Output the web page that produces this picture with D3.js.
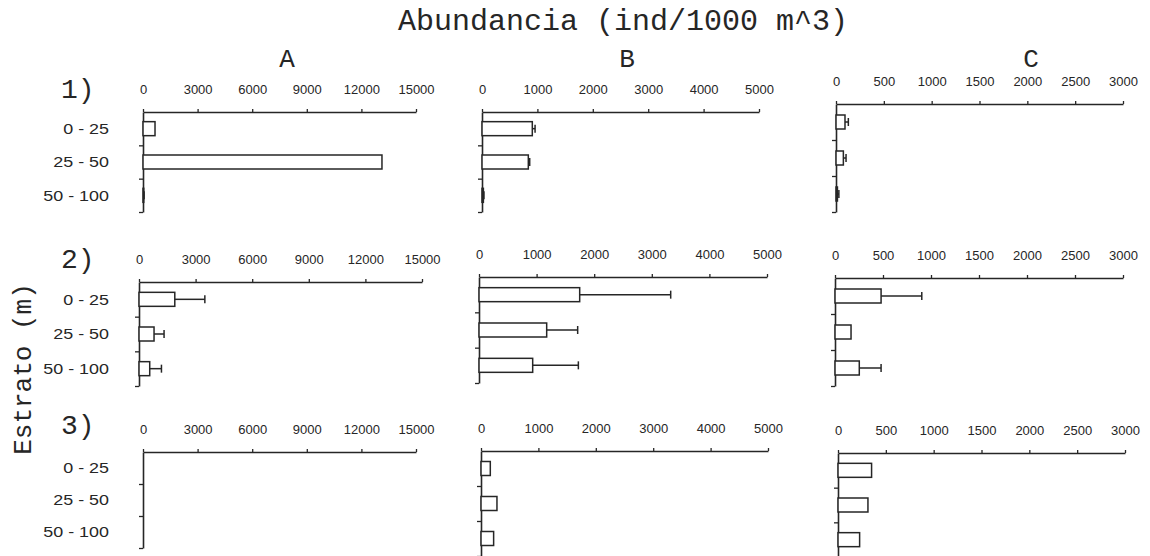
<!DOCTYPE html>
<html>
<head>
<meta charset="utf-8">
<script src="https://cdn.jsdelivr.net/npm/d3@7"></script>
<style>
  body { margin: 0; background: #fff; }
  svg { display: block; }
</style>
</head>
<body>
<svg id="chart" width="1150" height="556"></svg>
<script>
// Depth strata (m) and panel labels
const strata = ["0 - 25", "25 - 50", "50 - 100"];
const columnNames = ["A", "B", "C"];
const rowNames = ["1)", "2)", "3)"];

// Axis range and tick spacing for each column
const axisMax = [15000, 5000, 3000];
const tickStep = [3000, 1000, 500];

// Mean abundance (ind/1000 m^3) per stratum and the upper error extent
const meanA1 = [660, 13130, 40],  errA1 = [0, 0, 20];
const meanB1 = [908, 836, 25],    errB1 = [50, 25, 10];
const meanC1 = [94, 77, 15],      errC1 = [35, 28, 15];
const meanA2 = [1897, 797, 568],  errA2 = [1593, 531, 622];
const meanB2 = [1748, 1175, 932], errB2 = [1580, 538, 793];
const meanC2 = [480, 167, 253],   errC2 = [424, 0, 227];
const meanA3 = [0, 0, 0],         errA3 = [0, 0, 0];
const meanB3 = [162, 278, 220],   errB3 = [0, 0, 0];
const meanC3 = [351, 313, 226],   errC3 = [0, 0, 0];

const panelData = [
  [[meanA1, errA1], [meanB1, errB1], [meanC1, errC1]],
  [[meanA2, errA2], [meanB2, errB2], [meanC2, errC2]],
  [[meanA3, errA3], [meanB3, errB3], [meanC3, errC3]]
];

// Plot frame of each panel: left/right of the value axis, top/bottom of the strata axis
const frames = [
  [{ x0: 143, x1: 416, y0: 112, y1: 212 }, { x0: 482, x1: 759, y0: 112, y1: 212 }, { x0: 836, x1: 1123, y0: 104, y1: 212 }],
  [{ x0: 139, x1: 422, y0: 282, y1: 386 }, { x0: 479, x1: 767, y0: 277, y1: 383 }, { x0: 835, x1: 1123, y0: 278, y1: 386 }],
  [{ x0: 143, x1: 416, y0: 452, y1: 548 }, { x0: 481, x1: 768, y0: 451, y1: 556 }, { x0: 838, x1: 1125, y0: 453, y1: 557 }]
];
const rowLabelBaseline = [98, 268, 434];
const columnTitleX = [287, 627, 1031];

const ink = "#262626";
const monoFont = "'Liberation Mono', 'DejaVu Sans Mono', monospace";
const sansFont = "'Liberation Sans', Arial, sans-serif";
const barHeight = 14;

const svg = d3.select("#chart");

// Main title
svg.append("text")
  .attr("x", 623).attr("y", 30)
  .attr("text-anchor", "middle")
  .style("font-family", monoFont).style("font-size", "30px").attr("fill", ink)
  .text("Abundancia (ind/1000 m^3)");

// Shared vertical title
svg.append("text")
  .attr("transform", "translate(31,369) rotate(-90)")
  .attr("text-anchor", "middle")
  .style("font-family", monoFont).style("font-size", "26px").attr("fill", ink)
  .text("Estrato (m)");

// Column titles
columnNames.forEach((name, c) => {
  svg.append("text")
    .attr("x", columnTitleX[c]).attr("y", 67)
    .attr("text-anchor", "middle")
    .style("font-family", monoFont).style("font-size", "26px").attr("fill", ink)
    .text(name);
});

// Row labels
rowNames.forEach((name, r) => {
  svg.append("text")
    .attr("x", 61).attr("y", rowLabelBaseline[r])
    .style("font-family", monoFont).style("font-size", "28px").attr("fill", ink)
    .text(name);
});

panelData.forEach((row, r) => {
  row.forEach(([means, errs], c) => {
    const f = frames[r][c];
    const g = svg.append("g");

    const x = d3.scaleLinear().domain([0, axisMax[c]]).range([f.x0, f.x1]);
    const step = (f.y1 - f.y0) / strata.length;
    const pad = 1 - barHeight / step;
    const y = d3.scaleBand().domain(strata).range([f.y0, f.y1])
      .paddingInner(pad).paddingOuter(pad / 2);
    const yEdge = d3.scaleLinear().domain([0, strata.length]).range([f.y0, f.y1]);

    // Value axis on top
    const xAxis = g.append("g")
      .attr("transform", `translate(0,${f.y0})`)
      .call(d3.axisTop(x)
        .tickValues(d3.range(0, axisMax[c] + 1, tickStep[c]))
        .tickSize(3).tickSizeOuter(0).tickPadding(15)
        .tickFormat(d3.format("d")));
    xAxis.select(".domain").attr("stroke", ink).attr("stroke-width", 1.6);
    xAxis.selectAll(".tick line").attr("stroke", ink).attr("stroke-width", 1.3);
    xAxis.selectAll(".tick text")
      .attr("fill", ink)
      .style("font-family", sansFont).style("font-size", "13px");

    // Strata axis with ticks between categories
    const yAxis = g.append("g")
      .attr("transform", `translate(${f.x0},0)`)
      .call(d3.axisLeft(yEdge)
        .tickValues(d3.range(1, strata.length + 1))
        .tickSize(4).tickSizeOuter(0).tickFormat(""));
    yAxis.select(".domain").attr("stroke", ink).attr("stroke-width", 1.6);
    yAxis.selectAll(".tick line").attr("stroke", ink).attr("stroke-width", 1.3);

    // Stratum labels on the first column
    if (c === 0) {
      g.selectAll("text.stratum")
        .data(strata)
        .join("text")
        .attr("class", "stratum")
        .attr("transform", d => `translate(109,${y(d) + y.bandwidth() / 2}) scale(1.28,1)`)
        .attr("text-anchor", "end")
        .attr("dominant-baseline", "central")
        .style("font-family", sansFont).style("font-size", "14px")
        .attr("fill", ink)
        .text(d => d);
    }

    const rows = strata.map((s, i) => ({ s, v: means[i], e: errs[i] }));

    // Bars
    g.selectAll("rect.bar")
      .data(rows.filter(d => d.v > 0))
      .join("rect")
      .attr("class", "bar")
      .attr("x", x(0))
      .attr("y", d => y(d.s))
      .attr("width", d => x(d.v) - x(0))
      .attr("height", y.bandwidth())
      .attr("fill", "#fff")
      .attr("stroke", ink)
      .attr("stroke-width", 1.5);

    // Error bars
    const withErr = rows.filter(d => d.e > 0);
    g.selectAll("line.err")
      .data(withErr)
      .join("line")
      .attr("class", "err")
      .attr("x1", d => x(d.v)).attr("x2", d => x(d.v + d.e))
      .attr("y1", d => y(d.s) + y.bandwidth() / 2)
      .attr("y2", d => y(d.s) + y.bandwidth() / 2)
      .attr("stroke", ink).attr("stroke-width", 1.5);
    g.selectAll("line.cap")
      .data(withErr)
      .join("line")
      .attr("class", "cap")
      .attr("x1", d => x(d.v + d.e)).attr("x2", d => x(d.v + d.e))
      .attr("y1", d => y(d.s) + y.bandwidth() / 2 - 4)
      .attr("y2", d => y(d.s) + y.bandwidth() / 2 + 4)
      .attr("stroke", ink).attr("stroke-width", 1.5);
  });
});
</script>
</body>
</html>
